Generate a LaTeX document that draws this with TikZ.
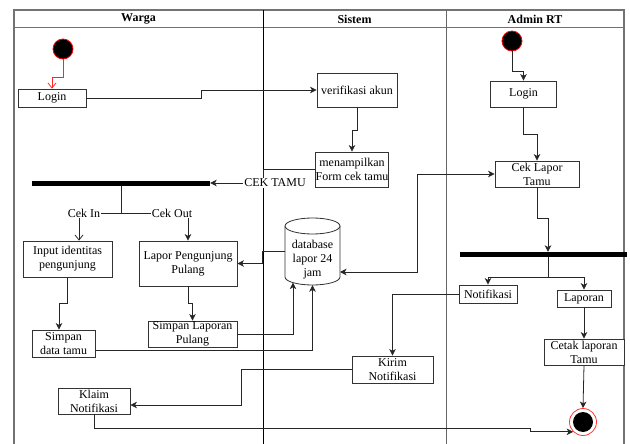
\documentclass[tikz,border=0pt]{standalone}
\usepackage{fontspec}
\setmainfont{Liberation Serif}
\usetikzlibrary{arrows.meta,calc}
\begin{document}
\begin{tikzpicture}[x=1pt,y=-1pt,
  box/.style={draw=black!80,line width=0.8pt,fill=white,inner sep=0pt,align=center,font=\fontsize{12}{14}\selectfont},
  lbl/.style={inner sep=1pt,font=\fontsize{12}{14}\selectfont},
  hdr/.style={inner sep=0pt,font=\bfseries\fontsize{12}{14}\selectfont},
  bar/.style={fill=black,draw=none,inner sep=0pt},
  plain/.style={draw=black!85,line width=0.8pt},
  flow/.style={draw=black!85,line width=0.8pt,-{Stealth[length=6.5pt,width=6.5pt,inset=1.8pt]}},
  dflow/.style={draw=black!85,line width=0.8pt,{Stealth[length=6.5pt,width=6.5pt,inset=1.8pt]}-{Stealth[length=6.5pt,width=6.5pt,inset=1.8pt]}},
  openarr/.style={draw=black!85,line width=0.8pt,-{Straight Barb[length=5pt,width=8pt]}},
  redarr/.style={draw=red!85,line width=0.8pt,-{Straight Barb[length=5pt,width=8pt]}},
  startnode/.style={circle,fill=black,draw=red,line width=0.8pt,minimum size=20pt,inner sep=0pt}
]
\useasboundingbox (0,0) rectangle (630,444);
% pool frame
\draw[black!55,line width=1.2pt] (14,444) -- (14,10) -- (624,10) -- (624,444);
\draw[black!55,line width=1pt] (14,28) -- (624,28);
\draw[black,line width=0.8pt] (263,10) -- (263,444);
\draw[black!60,line width=1pt] (446,10) -- (446,444);
\node[hdr] (hW) at (138.5,19) {Warga};
\node[hdr] (hS) at (354.5,19) {Sistem};
\node[hdr] (hA) at (535,19) {Admin RT};

% helper x positions
\coordinate (x79) at (79,0);
\coordinate (x59) at (59,0);
\coordinate (x548) at (548,0);

% Warga
\node[startnode] (sW) at (63,49) {};
\node[box,minimum width=68pt,minimum height=18pt] (wLogin) at (52,98) {Login};
\node[bar,minimum width=178pt,minimum height=5pt] (barW) at (121,183) {};
\node[lbl] (cekin) at (84,213) {Cek In};
\node[lbl] (cekout) at (172,213) {Cek Out};
\node[box,minimum width=89pt,minimum height=36pt] (input) at (67.5,259) {Input identitas\\pengunjung};
\node[box,minimum width=98pt,minimum height=45pt] (lapor) at (188,263.5) {Lapor Pengunjung\\Pulang};
\node[box,minimum width=63pt,minimum height=27pt] (sData) at (63.5,343.5) {Simpan\\data tamu};
\node[box,minimum width=89pt,minimum height=26pt] (sLap) at (192.5,334) {Simpan Laporan\\Pulang};
\node[box,minimum width=72pt,minimum height=26pt] (klaim) at (94,401) {Klaim\\Notifikasi};

% Sistem
\node[box,minimum width=80pt,minimum height=34pt] (verif) at (357,90) {verifikasi akun};
\node[box,minimum width=72pt,minimum height=35pt] (menamp) at (352,169.5) {menampilkan\\Form cek tamu};
\node[minimum width=55pt,minimum height=67pt,inner sep=0pt] (db) at (312.5,251.5) {};
\fill[white] (285,226) -- (285,277) .. controls (285,281.42) and (297.31,285) .. (312.5,285)
  .. controls (327.69,285) and (340,281.42) .. (340,277) -- (340,226) -- cycle;
\draw[black!80,line width=0.8pt] (285,226) -- (285,277) .. controls (285,281.42) and (297.31,285) .. (312.5,285)
  .. controls (327.69,285) and (340,281.42) .. (340,277) -- (340,226);
\draw[black!80,line width=0.8pt,fill=white] (312.5,226) ellipse [x radius=27.5pt,y radius=8pt];
\node[lbl,align=center] (dbtext) at (312.5,260) {database\\lapor 24\\jam};
\coordinate (dbL) at (293,282.6);
\coordinate (dbR) at (340,272);
\node[box,minimum width=81pt,minimum height=27pt] (kirim) at (392.5,369.5) {Kirim\\Notifikasi};

% Admin RT
\node[startnode] (sA) at (512,41) {};
\node[box,minimum width=66pt,minimum height=26pt] (aLogin) at (523.5,94) {Login};
\node[box,minimum width=84pt,minimum height=26pt] (sCek) at (537,174) {Cek Lapor\\Tamu};
\node[bar,minimum width=167pt,minimum height=5pt] (barA) at (543.5,254.5) {};
\node[box,minimum width=58pt,minimum height=18pt] (notif) at (488,294) {Notifikasi};
\node[box,minimum width=54pt,minimum height=17pt] (laporan) at (584,298.5) {Laporan};
\node[box,minimum width=80pt,minimum height=26pt] (cetak) at (584,352) {Cetak laporan\\Tamu};
\node[circle,draw=red!80,line width=0.8pt,fill=white,minimum size=27pt,inner sep=0pt] (fin) at (583,422) {};
\node[circle,fill=black,minimum size=20pt,inner sep=0pt] (finIn) at (fin.center) {};

% connectors
\draw[redarr] (sW.south) -- (63,77) -- (52,77) -- (wLogin.north);
\draw[flow] (wLogin.east) -- (201,98) -- (201,90) -- (verif.west);
\draw[flow] (verif.south) -- (357,130) -- (352,130) -- (menamp.north);
\draw[flow] (menamp.west) -- (263,169.5) -- (263,183) -- (barW.east);
\node[lbl,fill=white] (cektamu) at (275,183) {CEK TAMU};
\draw[plain] (barW.south) -- (121,213);
\draw[plain] (cekin.east) -- (cekout.west);
\draw[openarr] (cekin.south -| x79) -- (input.north -| x79);
\draw[flow] (cekout.south -| lapor.north) -- (lapor.north);
\draw[flow] (input.south) -- (67.5,303) -- (59,303) -- (sData.north -| x59);
\draw[flow] (lapor.south) -- (188,303) -- (192.5,303) -- (sLap.north);
\draw[flow] (sLap.east) -- (293,334) -- (dbL);
\draw[flow] ($(sData.east)+(0,6.5)$) -- (312.5,350) -- (db.south);
\draw[flow] (db.west) -- (262,251.5) -- (262,263.5) -- (lapor.east);
\draw[dflow] (sCek.west) -- (417,174) -- (417,272) -- (dbR);
\draw[flow] (sA.south) -- (512,71) -- (523.5,71) -- (aLogin.north);
\draw[flow] (aLogin.south) -- (523.5,134) -- (537,134) -- (sCek.north);
\draw[flow] (sCek.south) -- (537,218) -- (548,218) -- (barA.north -| x548);
\draw[flow] (barA.south -| x548) -- (548,277) -- (488,277) -- (notif.north);
\draw[flow] (barA.south -| x548) -- (548,277) -| (laporan.north);
\draw[flow] (notif.west) -- (392.5,294) -- (kirim.north);
\draw[flow] (kirim.west) -- (241,369.5) -- (241,405) -- ($(klaim.east)+(0,4)$);
\draw[flow] (klaim.south) -- (94,428) -- (530,428) |- (fin.south west);
\draw[flow] (laporan.south) -- (cetak.north);
\draw[flow] (cetak.south) -- (fin.north);
\end{tikzpicture}
\end{document}
